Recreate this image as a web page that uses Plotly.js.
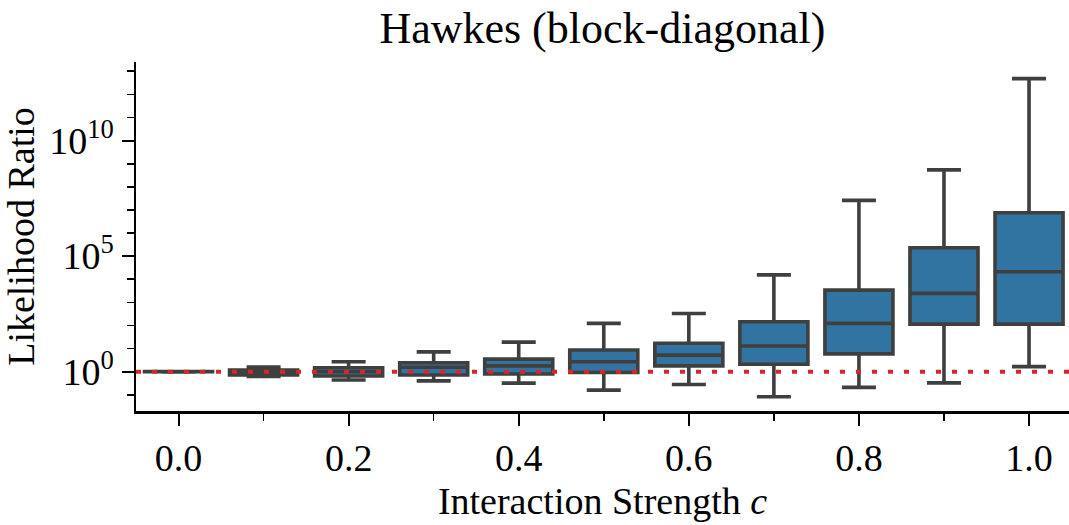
<!DOCTYPE html>
<html>
<head>
<meta charset="utf-8">
<script src="https://cdn.plot.ly/plotly-3.0.1.min.js"></script>
<style>
  html, body { margin: 0; padding: 0; background: #fff; }
  #chart { width: 1069px; height: 525px; }
</style>
</head>
<body>
<div id="chart"></div>
<script>
// Interaction strength c (box positions)
const strengths = [0.0, 0.1, 0.2, 0.3, 0.4, 0.5, 0.6, 0.7, 0.8, 0.9, 1.0];
// Box statistics of the likelihood ratio
const lowerWhisker = [0.98, 0.63, 0.44, 0.40, 0.32, 0.16, 0.28, 0.083, 0.21, 0.33, 1.66];
const q1Values     = [0.99, 0.72, 0.65, 0.72, 0.79, 0.93, 1.78, 2.1, 5.9, 115, 115];
const medianValues = [1.0, 1.0, 1.0, 1.55, 1.78, 2.7, 5.2, 13, 123, 2450, 21000];
const q3Values     = [1.01, 1.17, 1.48, 2.45, 3.5, 8.7, 17, 145, 3400, 230000, 7.6e6];
const upperWhisker = [1.02, 1.58, 2.7, 7.2, 19, 123, 330, 15500, 2.6e7, 5.4e8, 4.8e12];
const referenceLevel = 1;

// Tick labels
const xTickVals = [0.0, 0.2, 0.4, 0.6, 0.8, 1.0];
const xTickText = ['0.0', '0.2', '0.4', '0.6', '0.8', '1.0'];
const xMinorVals = [0.1, 0.3, 0.5, 0.7, 0.9];
const yTickVals = [1, 1e5, 1e10];
const yTickText = ['10<sup>0</sup>', '10<sup>5</sup>', '10<sup>10</sup>'];
const yMinorVals = [1e-1, 1e1, 1e2, 1e3, 1e4, 1e6, 1e7, 1e8, 1e9, 1e11, 1e12, 1e13];

const FONT = '"Liberation Serif", "DejaVu Serif", serif';

const trace = {
  type: 'box',
  x: strengths,
  q1: q1Values,
  median: medianValues,
  q3: q3Values,
  lowerfence: lowerWhisker,
  upperfence: upperWhisker,
  width: 0.08,
  whiskerwidth: 0.5,
  fillcolor: '#3274a1',
  line: { color: '#3f3f3f', width: 3.6 },
  boxpoints: false,
  hoverinfo: 'skip',
  showlegend: false
};

const layout = {
  width: 1069,
  height: 525,
  margin: { l: 136, r: 0, t: 62, b: 114, pad: 0 },
  paper_bgcolor: '#fff',
  plot_bgcolor: '#fff',
  font: { family: FONT, color: '#000', size: 38 },
  title: {
    text: 'Hawkes (block-diagonal)',
    font: { family: FONT, size: 44, color: '#000' },
    x: 0.5635, xanchor: 'center',
    y: 0.948, yanchor: 'middle'
  },
  xaxis: {
    range: [-0.05, 1.047],
    showline: true, linecolor: '#000', linewidth: 2.5,
    showgrid: false, zeroline: false,
    ticks: 'outside', ticklen: 12, tickwidth: 2, tickcolor: '#000',
    tickmode: 'array', tickvals: xTickVals, ticktext: xTickText,
    tickfont: { family: FONT, size: 38, color: '#000' },
    minor: { tickmode: 'array', tickvals: xMinorVals, ticks: 'outside', ticklen: 7, tickwidth: 1.6, tickcolor: '#000', showgrid: false },
    title: { text: 'Interaction Strength <i>c</i>', font: { family: FONT, size: 38, color: '#000' }, standoff: 10 },
    automargin: false
  },
  yaxis: {
    type: 'log',
    range: [-1.7, 13.4],
    showline: true, linecolor: '#000', linewidth: 2.5,
    showgrid: false, zeroline: false,
    ticks: 'outside', ticklen: 12, tickwidth: 2, tickcolor: '#000',
    tickmode: 'array', tickvals: yTickVals, ticktext: yTickText,
    tickfont: { family: FONT, size: 38, color: '#000' },
    minor: { tickmode: 'array', tickvals: yMinorVals, ticks: 'outside', ticklen: 7, tickwidth: 1.6, tickcolor: '#000', showgrid: false },
    title: { text: 'Likelihood Ratio', font: { family: FONT, size: 38, color: '#000' }, standoff: 4 },
    automargin: false
  },
  shapes: [{
    type: 'line', xref: 'paper', yref: 'y',
    x0: 0, x1: 1, y0: referenceLevel, y1: referenceLevel,
    line: { color: '#d62728', width: 4, dash: '5px,11px' },
    layer: 'above'
  }]
};

Plotly.newPlot('chart', [trace], layout, { displayModeBar: false, staticPlot: true });
</script>
</body>
</html>
